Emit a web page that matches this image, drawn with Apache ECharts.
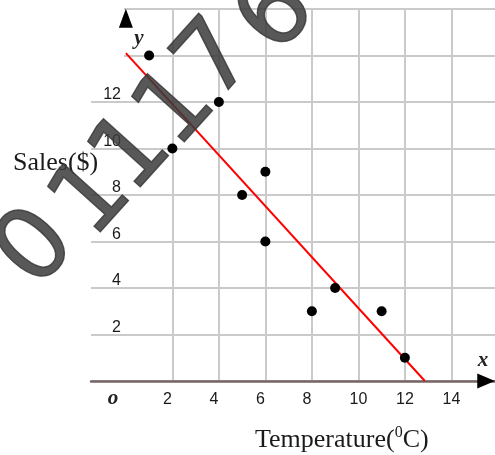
<!DOCTYPE html>
<html>
<head>
<meta charset="utf-8">
<script src="https://cdn.jsdelivr.net/npm/echarts@6/dist/echarts.min.js"></script>
<style>
  html, body { margin: 0; padding: 0; background: #fff; }
  #chart { width: 495px; height: 455px; }
</style>
</head>
<body>
<div id="chart"></div>
<script>
// scatter data: temperature vs sales
var temperature = [1, 2, 4, 5, 6, 6, 8, 9, 11, 12];
var sales = [14, 10, 12, 8, 9, 6, 3, 4, 3, 1];
// fitted line end points
var fitX = [0, 12.86];
var fitY = [14.1, 0];
// tick labels shown
var xTicks = [2, 4, 6, 8, 10, 12, 14];
var yTicks = [2, 4, 6, 8, 10, 12];
// watermark text
var watermark = ["0", "1", "1", "1", "7", "6", "0"];

var axisColor = "#756565";
var gridColor = "#cacaca";
var labelColor = "#1a1a1a";

var chart = echarts.init(document.getElementById("chart"));

var points = temperature.map(function (t, i) {
  return [t, sales[i]];
});
var fitLine = fitX.map(function (x, i) {
  return [x, fitY[i]];
});

// watermark glyph centres, drawn rotated
var wmPos = [[38, 250], [94, 200], [134, 155], [178, 110], [218, 62], [278, 16], [338, -30]];
var wmItems = watermark.map(function (ch, i) {
  return {
    type: "text",
    x: wmPos[i][0],
    y: wmPos[i][1],
    rotation: (48 * Math.PI) / 180,
    z: 100,
    silent: true,
    style: {
      text: ch,
      font: '100px "DejaVu Sans"',
      fill: "#3b3b3b",
      stroke: "#3b3b3b",
      lineWidth: 1.5,
      opacity: 0.85,
      align: "center",
      verticalAlign: "middle",
    },
  };
});

var option = {
  animation: false,
  grid: {
    left: 91,
    right: 0,
    top: 9,
    bottom: 74,
  },
  xAxis: {
    type: "value",
    min: -1.5,
    max: 15.876,
    axisLine: {
      show: true,
      onZero: false,
      lineStyle: { color: axisColor, width: 2.5 },
    },
    axisTick: { show: false, customValues: xTicks },
    axisLabel: {
      customValues: xTicks,
      margin: 11,
      color: labelColor,
      fontFamily: "Liberation Sans",
      fontSize: 16,
      formatter: function (v) {
        return v < 10 ? "{a|" + v + "}" : String(v);
      },
      rich: {
        a: { padding: [0, 10, 0, 0], color: labelColor, fontFamily: "Liberation Sans", fontSize: 16 },
      },
    },
    splitLine: {
      show: true,
      lineStyle: { color: gridColor, width: 2 },
    },
  },
  yAxis: {
    type: "value",
    min: 0,
    max: 16,
    interval: 2,
    position: "left",
    // shift the axis from the grid edge (x=-1.5) to x=0
    offset: -35,
    axisLine: { show: false, onZero: false },
    axisTick: { show: false },
    axisLabel: {
      margin: 5,
      color: labelColor,
      fontFamily: "Liberation Sans",
      fontSize: 16,
      verticalAlign: "bottom",
      lineHeight: 14,
      formatter: function (v) {
        return yTicks.indexOf(v) >= 0 ? String(v) : "";
      },
    },
    splitLine: {
      show: true,
      lineStyle: { color: gridColor, width: 2 },
    },
  },
  graphic: [
    // horizontal grid lines 14 and 16 start at the y axis
    {
      type: "rect",
      z: 1,
      silent: true,
      shape: { x: 86, y: 0, width: 38, height: 68 },
      style: { fill: "#fff" },
    },
    {
      type: "text",
      left: 13,
      top: 150,
      z: 5,
      style: { text: "Sales($)", font: '26px "Liberation Serif"', fill: "#1a1a1a" },
    },
    {
      type: "text",
      left: 255,
      top: 425,
      z: 5,
      style: {
        text: "{n|Temperature(}{s|0}{n|C)}",
        rich: {
          n: { font: '26px "Liberation Serif"', fill: "#1a1a1a", lineHeight: 30 },
          s: { font: '16px "Liberation Serif"', fill: "#1a1a1a", verticalAlign: "top", lineHeight: 30, padding: [0, 0, 10, 0] },
        },
      },
    },
    {
      type: "text",
      x: 139,
      y: 39,
      z: 5,
      style: { text: "y", font: 'italic bold 21px "Liberation Serif"', fill: "#222", align: "center", verticalAlign: "middle" },
    },
    {
      type: "text",
      x: 483,
      y: 361,
      z: 5,
      style: { text: "x", font: 'italic bold 21px "Liberation Serif"', fill: "#222", align: "center", verticalAlign: "middle" },
    },
    {
      type: "text",
      x: 113,
      y: 399,
      z: 5,
      style: { text: "o", font: 'italic bold 21px "Liberation Serif"', fill: "#222", align: "center", verticalAlign: "middle" },
    },
  ].concat(wmItems),
  series: [
    {
      type: "line",
      data: fitLine,
      symbol: "none",
      clip: false,
      z: 3,
      lineStyle: { color: "#ff0000", width: 2 },
    },
    {
      type: "scatter",
      data: points,
      symbolSize: 10,
      z: 4,
      itemStyle: { color: "#000", opacity: 1 },
    },
    {
      // y axis line (reaches below the x axis) and both arrow heads
      type: "line",
      data: [],
      clip: false,
      z: 2,
      markLine: {
        silent: true,
        symbol: "none",
        label: { show: false },
        lineStyle: { color: axisColor, width: 2.5, type: "solid" },
        data: [[{ coord: [0, -1.8] }, { coord: [0, 15.4] }]],
      },
      markPoint: {
        silent: true,
        label: { show: false },
        itemStyle: { color: "#000" },
        data: [
          { coord: [0, 15.6], symbol: "triangle", symbolSize: [14, 19] },
          { coord: [15.5, 0], symbol: "triangle", symbolSize: [15, 18], symbolRotate: -90 },
        ],
      },
    },
  ],
};

chart.setOption(option);
</script>
</body>
</html>
